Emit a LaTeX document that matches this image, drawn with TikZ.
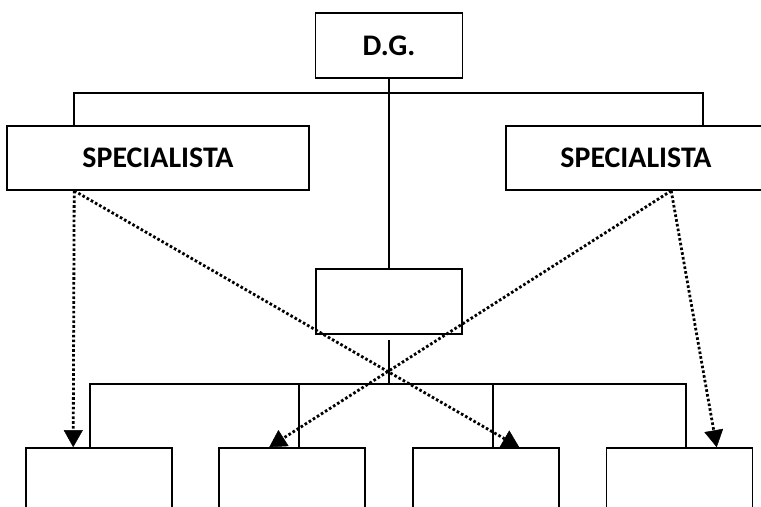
\documentclass[tikz,border=0pt]{standalone}
\usepackage{fontspec}
\setmainfont{Carlito}
\usetikzlibrary{arrows.meta}
\tikzset{
  casella/.style={draw, line width=1.6bp, inner sep=0pt, font=\bfseries\fontsize{30}{33}\selectfont},
  linea/.style={line width=1.6bp},
  puntini/.style={line width=2.8bp, dash pattern=on 2.6bp off 2.2bp, -{Triangle[length=17bp,width=19bp,line width=0.5bp]}}
}
\begin{document}
\begin{tikzpicture}[x=1bp, y=-1bp]
    \useasboundingbox (0,0) rectangle (761,507);
    \clip (0,0) rectangle (761,507);
    %caselle in alto
    \node[casella, minimum width=147bp, minimum height=65bp] (dg) at (389,45.5) {D.G.};
    \node[casella, minimum width=302bp, minimum height=64bp] (specSx) at (158,158) {SPECIALISTA};
    \node[casella, minimum width=260bp, minimum height=64bp] (specDx) at (636,158) {SPECIALISTA};
    %casella centrale
    \node[casella, minimum width=146bp, minimum height=65bp] (centro) at (389,301.5) {};
    %caselle in basso
    \node[casella, minimum width=146bp, minimum height=112bp] (box1) at (99,504) {};
    \node[casella, minimum width=146bp, minimum height=112bp] (box2) at (292,504) {};
    \node[casella, minimum width=146bp, minimum height=112bp] (box3) at (486,504) {};
    \node[casella, minimum width=146bp, minimum height=112bp] (box4) at (679.5,504) {};

    %linee gerarchiche
    \coordinate (giunto) at (389,93);
    \draw[linea] (dg.south) -- (centro.north);
    \draw[linea] ([xshift=68bp]specSx.north west) |- (giunto) -| ([xshift=198bp]specDx.north west);
    \draw[linea] ([yshift=-5bp]centro.south) -- (centro.south |- 0,385);
    \draw[linea] ([xshift=65bp]box1.north west) -- ++(0,-63) -| ([xshift=80bp]box4.north west);
    \draw[linea] ([xshift=81bp]box2.north west) -- ++(0,-63);
    \draw[linea] ([xshift=81bp]box3.north west) -- ++(0,-63);

    %frecce tratteggiate
    \draw[puntini] ([xshift=68bp]specSx.south west) -- ([xshift=48bp]box1.north west);
    \draw[puntini] ([xshift=68bp]specSx.south west) -- ([xshift=107bp]box3.north west);
    \draw[puntini] ([xshift=166bp]specDx.south west) -- ([xshift=51bp]box2.north west);
    \draw[puntini] ([xshift=166bp]specDx.south west) -- ([xshift=111bp]box4.north west);
\end{tikzpicture}
\end{document}
